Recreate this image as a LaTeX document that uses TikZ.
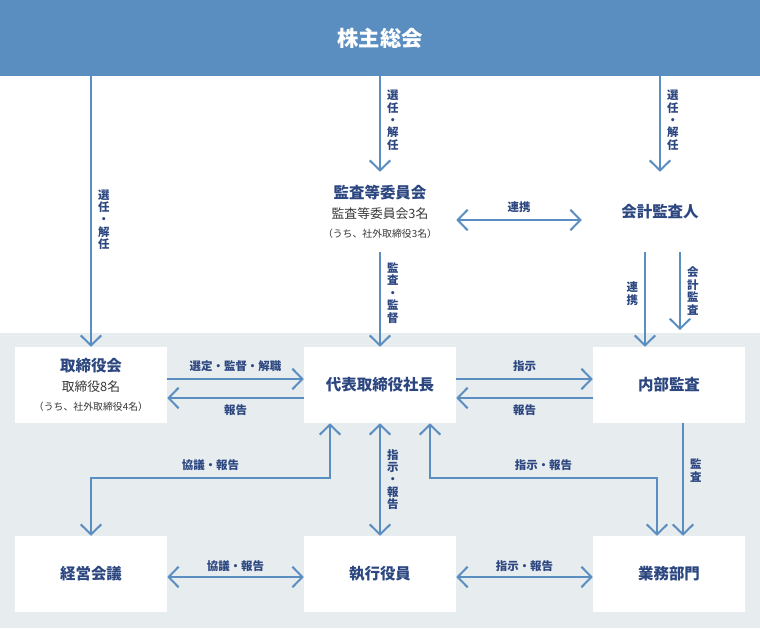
\documentclass[tikz,border=0pt]{standalone}
\usepackage{fontspec}
\setmainfont{Noto Sans CJK JP}
\definecolor{banner}{RGB}{90,142,193}
\definecolor{bggray}{RGB}{231,236,239}
\definecolor{navy}{RGB}{44,70,128}
\definecolor{subgray}{RGB}{55,55,55}
\usetikzlibrary{arrows.meta}
\newcommand{\subline}[1]{{\fontsize{9.6}{12}\selectfont\mdseries\color{subgray}#1}}
\newcommand{\smallline}[1]{{\fontsize{7.4}{10}\selectfont\mdseries\color{subgray}#1}}

\begin{document}
\begin{tikzpicture}[x=0.75pt,y=0.75pt,yscale=-1,xscale=1,
		>={Straight Barb[length=7.5pt,width=15.5pt]},
		arr/.style={draw=banner, line width=1.5pt},
		box/.style={fill=white, minimum width=114pt, minimum height=57pt, inner sep=0pt, align=center, text=navy, font=\fontsize{11.6}{14}\selectfont\bfseries},
		lbl/.style={text=navy, font=\fontsize{8.6}{9.3}\selectfont\bfseries, align=center, inner sep=1.5pt}]
		\path[use as bounding box] (0,0) rectangle (760,628);
		
		%Shape: Rectangle (lower area)
		\fill[bggray] (0,333) rectangle (760,628);
		%Shape: Rectangle (banner)
		\node[fill=banner, minimum width=570pt, minimum height=57pt, inner sep=0pt, text=white, font=\fontsize{16}{19}\selectfont\bfseries] (gm) at (380,38) {株主総会};
		
		% Text Node
		\node[box, fill=none, minimum height=60pt] (ac) at (380,212) {監査等委員会\\[1pt]\subline{監査等委員会3名}\\\smallline{（うち、社外取締役3名）}};
		% Text Node
		\node[box, fill=none, minimum width=117pt, minimum height=60pt] (ext) at (660,212) {会計監査人};
		%Shape: Rectangle
		\node[box] (tb) at (91,385) {取締役会\\[1pt]\subline{取締役8名}\\\smallline{（うち、社外取締役4名）}};
		%Shape: Rectangle
		\node[box] (ceo) at (380,385) {代表取締役社長};
		%Shape: Rectangle
		\node[box] (ia) at (669,385) {内部監査};
		%Shape: Rectangle
		\node[box] (mm) at (91,574) {経営会議};
		%Shape: Rectangle
		\node[box] (eo) at (380,574) {執行役員};
		%Shape: Rectangle
		\node[box] (bd) at (669,574) {業務部門};
		\coordinate (aa) at (680,330);
		
		%Straight Lines
		\draw[arr, ->] (tb.north |- gm.south) -- (tb.north) node[lbl, pos=0.53, right=3pt] {選\\任\\・\\解\\任};
		%Straight Lines
		\draw[arr, ->] (ac.north |- gm.south) -- (ac.north) node[lbl, pos=0.46, right=3pt] {選\\任\\・\\解\\任};
		%Straight Lines
		\draw[arr, ->] (ext.north |- gm.south) -- (ext.north) node[lbl, pos=0.46, right=3pt] {選\\任\\・\\解\\任};
		%Straight Lines
		\draw[arr, <->] (ac.east |- 0,220) -- (ext.west |- 0,220) node[lbl, midway, above=3pt] {連携};
		%Straight Lines
		\draw[arr, ->] (ac.south) -- (ceo.north) node[lbl, pos=0.43, right=3pt] {監\\査\\・\\監\\督};
		%Straight Lines
		\draw[arr, ->] (ext.south -| 645,0) -- (ia.north -| 645,0) node[lbl, pos=0.44, left=3pt] {連\\携};
		%Straight Lines
		\draw[arr, ->] (ext.south -| 680,0) -- (aa) node[lbl, midway, right=3pt] {会\\計\\監\\査};
		
		%Straight Lines
		\draw[arr, ->] (tb.east |- 0,379) -- (ceo.west |- 0,379) node[lbl, midway, above=3pt] {選定・監督・解職};
		%Straight Lines
		\draw[arr, ->] (ceo.west |- 0,398) -- (tb.east |- 0,398) node[lbl, midway, below=3pt] {報告};
		%Straight Lines
		\draw[arr, ->] (ceo.east |- 0,379) -- (ia.west |- 0,379) node[lbl, midway, above=3pt] {指示};
		%Straight Lines
		\draw[arr, ->] (ia.west |- 0,398) -- (ceo.east |- 0,398) node[lbl, midway, below=3pt] {報告};
		%Straight Lines
		\draw[arr, ->] (ia.south -| 683,0) -- (bd.north -| 683,0) node[lbl, pos=0.42, right=3pt] {監\\査};
		
		%Straight Lines
		\draw[arr, <->] (ceo.south -| 330,0) -- (330,478) -- node[lbl, above=3pt] {協議・報告} (mm.north |- 0,478) -- (mm.north);
		%Straight Lines
		\draw[arr, <->] (ceo.south) -- (eo.north) node[lbl, midway, right=3pt] {指\\示\\・\\報\\告};
		%Straight Lines
		\draw[arr, <->] (ceo.south -| 430,0) -- (430,478) -- node[lbl, above=3pt] {指示・報告} (657,478) -- (bd.north -| 657,0);
		%Straight Lines
		\draw[arr, <->] (mm.east |- 0,577) -- (eo.west |- 0,577) node[lbl, midway, above=2pt] {協議・報告};
		%Straight Lines
		\draw[arr, <->] (eo.east |- 0,577) -- (bd.west |- 0,577) node[lbl, midway, above=2pt] {指示・報告};
		
\end{tikzpicture}
\end{document}
